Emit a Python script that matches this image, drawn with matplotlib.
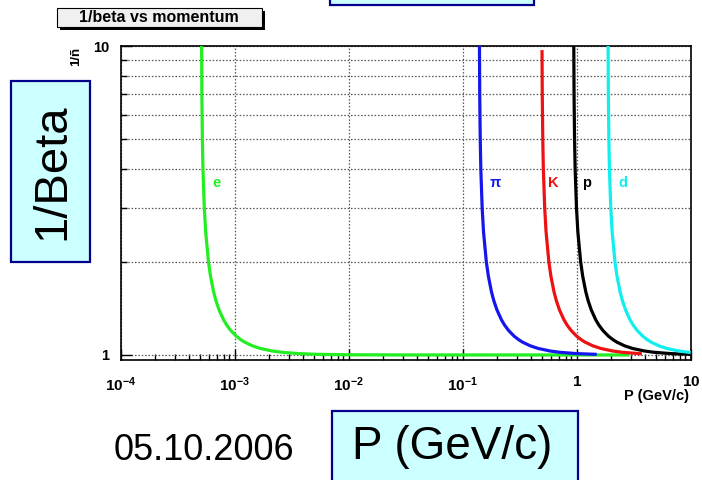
"""
1/beta vs momentum (ROOT style canvas) with slide overlay boxes.
"""

import math
import matplotlib
matplotlib.use("Agg")
import matplotlib.pyplot as plt
from matplotlib.patches import Rectangle
from matplotlib.ticker import LogLocator, FixedLocator, FuncFormatter, NullFormatter

W, H = 702, 480

# ---- data (x = P in GeV/c, y = 1/beta) ----
inv_levels = [10.0, 7.0, 5.0, 4.0, 3.0, 2.5, 2.0, 1.8, 1.6, 1.5, 1.4, 1.3,
              1.25, 1.2, 1.15, 1.12, 1.1, 1.07, 1.05, 1.03, 1.02, 1.01]

e_p    = [5.126e-4, 5.153e-4, 5.205e-4, 5.267e-4, 5.410e-4, 5.565e-4, 5.889e-4,
          6.134e-4, 6.533e-4, 6.842e-4, 7.287e-4, 7.982e-4, 8.500e-4, 9.226e-4,
          1.0326e-3, 1.1325e-3, 1.2242e-3, 1.4336e-3, 1.6723e-3, 2.1287e-3,
          2.588e-3, 3.633e-3, 5.118e-3, 1.0e-2, 3.0e-2, 2.9]
e_inv  = inv_levels + [1.005, 1.0013, 1.0002, 1.0]

pi_p   = [0.1403, 0.1410, 0.1425, 0.1442, 0.1481, 0.1523, 0.1612, 0.1679,
          0.1788, 0.1873, 0.1995, 0.2185, 0.2327, 0.2526, 0.2827, 0.3100,
          0.3351, 0.3924, 0.4578, 0.5827, 0.7084, 0.9946, 1.5]
pi_inv = inv_levels + [1.0044]

k_p    = [0.4963, 0.4988, 0.5039, 0.5099, 0.5237, 0.5387, 0.5701, 0.5938,
          0.6324, 0.6624, 0.7054, 0.7726, 0.8229, 0.8932, 0.9996, 1.0963,
          1.1851, 1.3878, 1.6188, 2.0607, 2.5053, 3.5174, 3.73]
k_inv  = [9.7] + inv_levels[1:] + [1.0089]

p_p    = [0.9430, 0.9480, 0.9576, 0.9691, 0.9953, 1.0238, 1.0835, 1.1285,
          1.2020, 1.2588, 1.3407, 1.4684, 1.5639, 1.6975, 1.8999, 2.0835,
          2.2523, 2.6376, 3.0767, 3.9165, 4.7615, 6.6850, 10.0]
p_inv  = inv_levels + [1.0044]

d_p    = [1.8851, 1.8950, 1.9142, 1.9371, 1.9894, 2.0465, 2.1658, 2.2558,
          2.4027, 2.5163, 2.6800, 2.9353, 3.1260, 3.3931, 3.7977, 4.1648,
          4.5022, 5.2723, 6.1501, 7.8288, 10.0]
d_inv  = inv_levels[:20] + [1.018]

curves = [
    ("e",  e_p,  e_inv,  "#22ee22", 6.96e-4),
    ("π",  pi_p, pi_inv, "#1515ee", 0.192),
    ("K",  k_p,  k_inv,  "#ee1111", 0.62),
    ("p",  p_p,  p_inv,  "#000000", 1.22),
    ("d",  d_p,  d_inv,  "#11eeee", 2.53),
]
label_y = 3.6

x_decades = [1e-4, 1e-3, 1e-2, 1e-1, 1, 10]
y_major = [1, 10]


def fx(x, y):
    """pixel -> figure fraction"""
    return x / W, 1 - y / H


plt.rcParams["font.family"] = ["Liberation Sans", "DejaVu Sans"]
plt.rcParams["mathtext.fontset"] = "custom"
plt.rcParams["mathtext.rm"] = "Liberation Sans:bold"
plt.rcParams["mathtext.bf"] = "Liberation Sans:bold"

fig = plt.figure(figsize=(W / 100, H / 100), dpi=100)
fig.patch.set_facecolor("white")

l, b = fx(120.7, 360)
r, t = fx(690.7, 46)
ax = fig.add_axes([l, b, r - l, t - b])

for name, xs, ys, col, lx in curves:
    ax.plot(xs, ys, color=col, lw=2.3, solid_capstyle="butt", zorder=3)
    ax.text(lx, label_y, name, color=col, fontsize=10.5, fontweight="bold",
            ha="center", va="center")

ax.set_xscale("log")
ax.set_yscale("log")
ax.set_xlim(1e-4, 10)
ax.set_ylim(0.963, 10.0)

# grid: decades on x, every integer on y
ax.xaxis.set_major_locator(FixedLocator(x_decades))
ax.xaxis.set_minor_locator(LogLocator(base=10, subs=range(2, 10), numticks=20))
ax.yaxis.set_major_locator(FixedLocator(y_major))
ax.yaxis.set_minor_locator(FixedLocator(range(2, 10)))
ax.yaxis.set_minor_formatter(NullFormatter())
ax.xaxis.set_minor_formatter(NullFormatter())


def xfmt(v, pos):
    if v >= 1:
        return r"$\mathbf{%d}$" % round(v)
    return r"$\mathbf{10^{%d}}$" % round(math.log10(v))


ax.xaxis.set_major_formatter(FuncFormatter(xfmt))
ax.yaxis.set_major_formatter(FuncFormatter(lambda v, p: "%d" % round(v)))

gkw = dict(color="#555555", linestyle=(0, (1.2, 1.5)), linewidth=0.9)
ax.grid(True, which="major", axis="x", **gkw)
ax.grid(True, which="both", axis="y", **gkw)
ax.set_axisbelow(True)

ax.tick_params(axis="both", which="both", direction="in", top=False, right=False)
ax.tick_params(axis="x", which="major", length=8, width=1, pad=11, labelsize=11)
ax.tick_params(axis="x", which="minor", length=4, width=1)
ax.tick_params(axis="y", which="major", length=8, width=1, pad=8, labelsize=10.5)
ax.tick_params(axis="y", which="minor", length=4, width=1)
for lab in ax.get_yticklabels():
    lab.set_fontweight("bold")
for sp in ax.spines.values():
    sp.set_linewidth(1.2)

# axis titles (ROOT style, small bold)
fig.text(*fx(689, 396), "P (GeV/c)", ha="right", va="center",
         fontsize=10.5, fontweight="bold")
fig.text(*fx(76, 56), "1/ñ", ha="center", va="center", rotation=90,
         fontsize=9.5, fontweight="bold")

# title pave with shadow
fig.add_artist(Rectangle(fx(60, 30), 205 / W, 19 / H, transform=fig.transFigure,
                         facecolor="black", edgecolor="none"))
fig.add_artist(Rectangle(fx(57, 27), 205 / W, 19 / H, transform=fig.transFigure,
                         facecolor="#f0f0f0", edgecolor="black", lw=0.8))
fig.text(*fx(159, 17.5), "1/beta vs momentum", ha="center", va="center",
         fontsize=11.5, fontweight="bold")

# slide overlay boxes
box_kw = dict(transform=fig.transFigure, facecolor="#ccffff",
              edgecolor="#00008b", lw=1.6, zorder=10)
fig.add_artist(Rectangle(fx(330, 5), 204 / W, 30 / H, **box_kw))
fig.add_artist(Rectangle(fx(11, 262), 79 / W, 181 / H, **box_kw))
fig.add_artist(Rectangle(fx(332, 490), 246 / W, 79 / H, **box_kw))

fig.text(*fx(52, 172), "1/Beta", rotation=90, ha="center", va="center",
         fontsize=34, zorder=11)
fig.text(*fx(452, 447), "P (GeV/c)", ha="center", va="center",
         fontsize=33, zorder=11)
fig.text(*fx(204, 450), "05.10.2006", ha="center", va="center",
         fontsize=26, zorder=11)

fig.savefig("out.png", dpi=100, facecolor="white")
